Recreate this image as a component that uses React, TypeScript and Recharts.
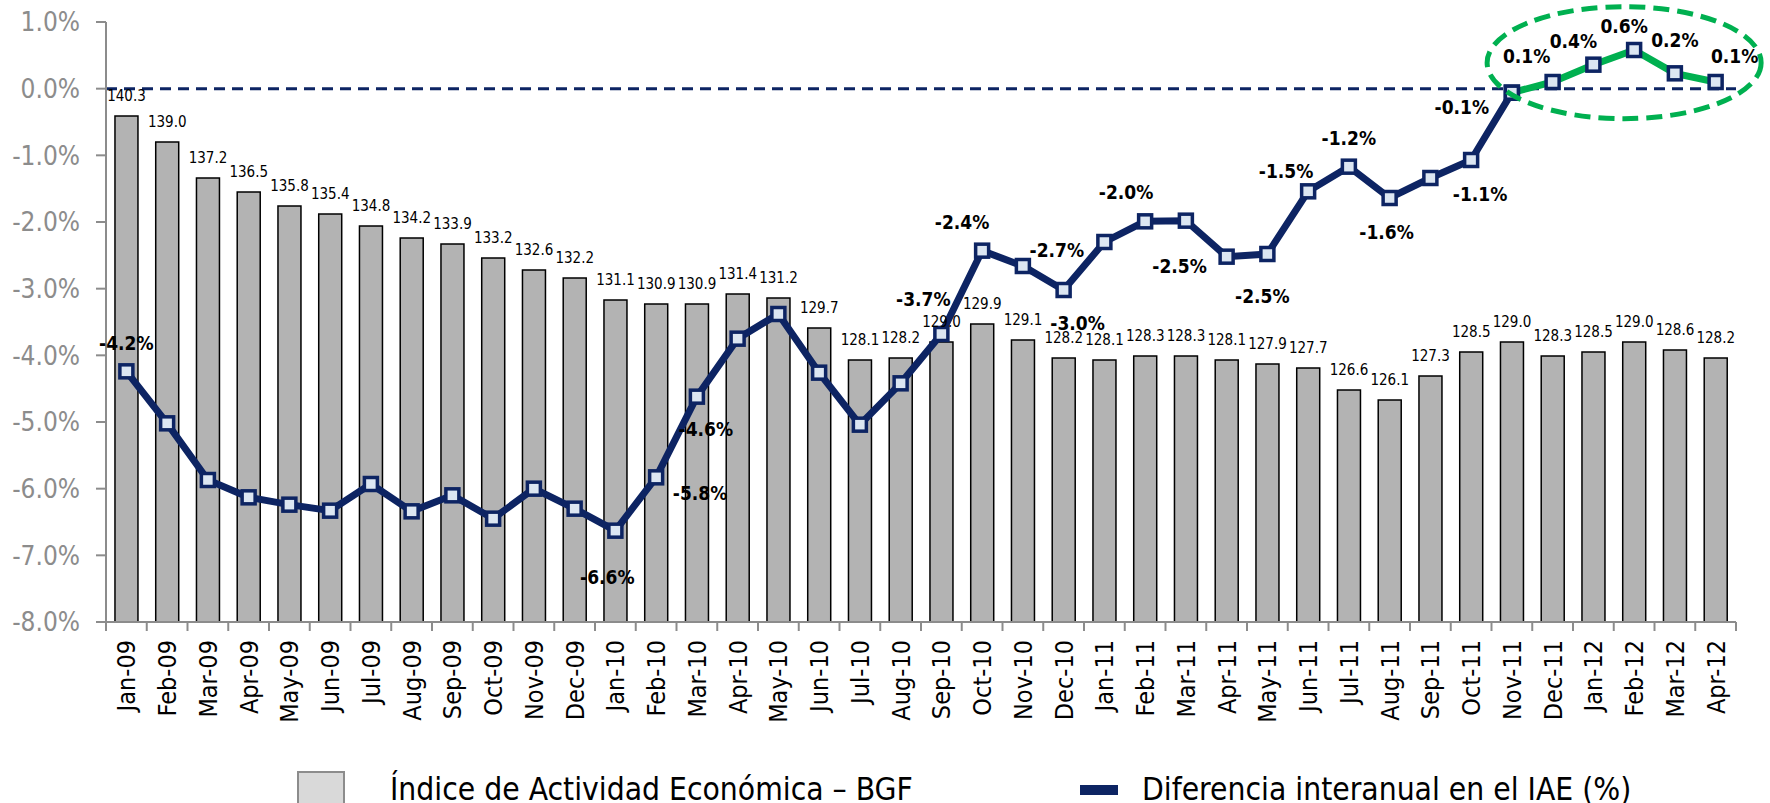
import React from 'react';
import { ComposedChart, Bar, Line, XAxis, YAxis, ReferenceLine, ReferenceDot, LabelList } from 'recharts';

const months = [
  'Jan-09', 'Feb-09', 'Mar-09', 'Apr-09', 'May-09', 'Jun-09', 'Jul-09', 'Aug-09', 'Sep-09', 'Oct-09', 'Nov-09', 'Dec-09',
  'Jan-10', 'Feb-10', 'Mar-10', 'Apr-10', 'May-10', 'Jun-10', 'Jul-10', 'Aug-10', 'Sep-10', 'Oct-10', 'Nov-10', 'Dec-10',
  'Jan-11', 'Feb-11', 'Mar-11', 'Apr-11', 'May-11', 'Jun-11', 'Jul-11', 'Aug-11', 'Sep-11', 'Oct-11', 'Nov-11', 'Dec-11',
  'Jan-12', 'Feb-12', 'Mar-12', 'Apr-12',
];

// Índice de Actividad Económica (bars)
const indexValues = [
  140.3, 139.0, 137.2, 136.5, 135.8, 135.4, 134.8, 134.2, 133.9, 133.2, 132.6, 132.2,
  131.1, 130.9, 130.9, 131.4, 131.2, 129.7, 128.1, 128.2, 129.0, 129.9, 129.1, 128.2,
  128.1, 128.3, 128.3, 128.1, 127.9, 127.7, 126.6, 126.1, 127.3, 128.5, 129.0, 128.3,
  128.5, 129.0, 128.6, 128.2,
];

// diferencia interanual (%) (line)
const yoyDiff = [
  -4.24, -5.02, -5.87, -6.13, -6.24, -6.33, -5.93, -6.34, -6.10, -6.45, -6.00, -6.30,
  -6.63, -5.83, -4.62, -3.75, -3.38, -4.26, -5.04, -4.42, -3.68, -2.43, -2.66, -3.02,
  -2.30, -1.99, -1.98, -2.52, -2.48, -1.54, -1.17, -1.64, -1.34, -1.07, -0.06, 0.10,
  0.36, 0.58, 0.23, 0.10,
];

const yTicks = [-8, -7, -6, -5, -4, -3, -2, -1, 0, 1];
const highlightFrom = 'Nov-11';

// where each printed % label sits relative to its point (dx, dy in px)
const diffLabelOffsets: Record<string, [number, number]> = {
  'Jan-09': [0, -28], 'Jan-10': [-8, 46], 'Feb-10': [44, 16], 'Mar-10': [9, 32],
  'Sep-10': [-18, -35], 'Oct-10': [-20, -29], 'Nov-10': [34, -16], 'Dec-10': [14, 33],
  'Feb-11': [-19, -29], 'Apr-11': [-47, 9], 'May-11': [-5, 42], 'Jun-11': [-22, -20],
  'Jul-11': [0, -29], 'Aug-11': [-3, 34], 'Oct-11': [9, 34], 'Nov-11': [-50, 14],
  'Dec-11': [-26, -26], 'Jan-12': [-20, -24], 'Feb-12': [-10, -24], 'Mar-12': [0, -33],
  'Apr-12': [19, -26],
};

const FONT = "'DejaVu Sans Condensed', 'DejaVu Sans', sans-serif";
const NAVY = '#0d2463';
const GREEN = '#00b050';
const AXIS_GREY = '#8c8c8c';
const PLOT_W = 1630;
const BAND = PLOT_W / months.length;

const hi = months.indexOf(highlightFrom);
const data = months.map((m, i) => ({
  month: m,
  index: indexValues[i],
  diff: yoyDiff[i],
  diffBase: i <= hi ? yoyDiff[i] : null,
  diffHigh: i >= hi ? yoyDiff[i] : null,
}));

const MonthTick = (props: any) => {
  const { x, y, payload, index } = props;
  const half = BAND / 2;
  return (
    <g>
      <line x1={x - half} x2={x - half} y1={y} y2={y + 9} stroke={AXIS_GREY} strokeWidth={2} />
      {index === months.length - 1 && (
        <line x1={x + half} x2={x + half} y1={y} y2={y + 9} stroke={AXIS_GREY} strokeWidth={2} />
      )}
      <text
        transform={`translate(${x},${y + 18}) rotate(-90)`}
        textAnchor="end"
        dy="0.36em"
        fontSize={25}
        fontFamily={FONT}
        fill="#000"
      >
        {payload.value}
      </text>
    </g>
  );
};

const SquareDot = (props: any) => {
  const { cx, cy, index } = props;
  if (cx == null || cy == null) return <g key={`e${index}`} />;
  return (
    <rect key={`d${index}`} x={cx - 6.5} y={cy - 6.5} width={13} height={13} fill="#dce6f2" stroke={NAVY} strokeWidth={3.5} />
  );
};

const renderDiffLabel = (props: any) => {
  const { index, value } = props;
  const x = props.x ?? props.viewBox?.x;
  const y = props.y ?? props.viewBox?.y;
  const off = diffLabelOffsets[months[index]];
  if (!off || x == null || y == null) return null;
  return (
    <text
      key={`l${index}`}
      x={x + off[0]}
      y={y + off[1]}
      dy="0.36em"
      textAnchor="middle"
      fontSize={19}
      fontWeight="bold"
      fontFamily={FONT}
      fill="#000"
    >
      {`${Number(value).toFixed(1)}%`}
    </text>
  );
};

export default function App() {
  return (
    <div style={{ position: 'fixed', left: 0, top: 0, width: 1770, height: 803, overflow: 'hidden', background: '#fff' }}>
      <ComposedChart width={1770} height={803} data={data} margin={{ top: 22, right: 34, bottom: 61, left: 0 }} barCategoryGap="22%">
        <XAxis
          dataKey="month"
          xAxisId="m"
          interval={0}
          height={120}
          tickSize={0}
          tickMargin={0}
          tickLine={false}
          axisLine={{ stroke: AXIS_GREY, strokeWidth: 2 }}
          tick={(p: any) => <MonthTick {...p} />}
        />
        <YAxis
          yAxisId="pct"
          domain={[-8, 1]}
          ticks={yTicks}
          width={106}
          tickSize={10}
          tickMargin={16}
          axisLine={{ stroke: AXIS_GREY, strokeWidth: 2 }}
          tickLine={{ stroke: AXIS_GREY, strokeWidth: 2 }}
          tick={{ fill: AXIS_GREY, fontSize: 26, fontFamily: FONT }}
          tickFormatter={(v: number) => `${v.toFixed(1)}%`}
        />
        <YAxis yAxisId="idx" orientation="right" domain={[115, 145]} hide />
        <Bar dataKey="index" xAxisId="m" yAxisId="idx" fill="#b3b3b3" stroke="#000" strokeWidth={1.5} isAnimationActive={false}>
          <LabelList
            dataKey="index"
            position="top"
            offset={15}
            formatter={(v: any) => Number(v).toFixed(1)}
            style={{ fontSize: 15, fontFamily: FONT, fill: '#000' }}
          />
        </Bar>
        <ReferenceLine y={0} xAxisId="m" yAxisId="pct" stroke={NAVY} strokeWidth={3} strokeDasharray="11 7" />
        <Line
          dataKey="diffBase"
          xAxisId="m"
          yAxisId="pct"
          type="linear"
          stroke={NAVY}
          strokeWidth={7}
          dot={(p: any) => <SquareDot {...p} />}
          activeDot={false}
          isAnimationActive={false}
        />
        <Line
          dataKey="diffHigh"
          xAxisId="m"
          yAxisId="pct"
          type="linear"
          stroke={GREEN}
          strokeWidth={7}
          dot={(p: any) => <SquareDot {...p} />}
          activeDot={false}
          isAnimationActive={false}
        />
        <Line
          dataKey="diff"
          xAxisId="m"
          yAxisId="pct"
          stroke="none"
          strokeWidth={0}
          dot={false}
          activeDot={false}
          isAnimationActive={false}
        >
          <LabelList dataKey="diff" content={renderDiffLabel} />
        </Line>
        <ReferenceDot
          x="Feb-12"
          y={0.39}
          xAxisId="m"
          yAxisId="pct"
          ifOverflow="visible"
          shape={(p: any) => (
            <ellipse cx={p.cx - 10} cy={p.cy} rx={137} ry={56} fill="none" stroke={GREEN} strokeWidth={5} strokeDasharray="16 8" />
          )}
        />
      </ComposedChart>
      <svg width={1770} height={803} style={{ position: 'absolute', left: 0, top: 0, pointerEvents: 'none' }}>
        <rect x={298} y={772} width={46} height={44} fill="#d9d9d9" stroke={AXIS_GREY} strokeWidth={2} />
        <text x={390} y={800} fontSize={31.5} fontFamily={FONT} fill="#000">Índice de Actividad Económica – BGF</text>
        <rect x={1080} y={785} width={38} height={10} fill={NAVY} />
        <text x={1142} y={800} fontSize={31.5} fontFamily={FONT} fill="#000">Diferencia interanual en el IAE (%)</text>
      </svg>
    </div>
  );
}
